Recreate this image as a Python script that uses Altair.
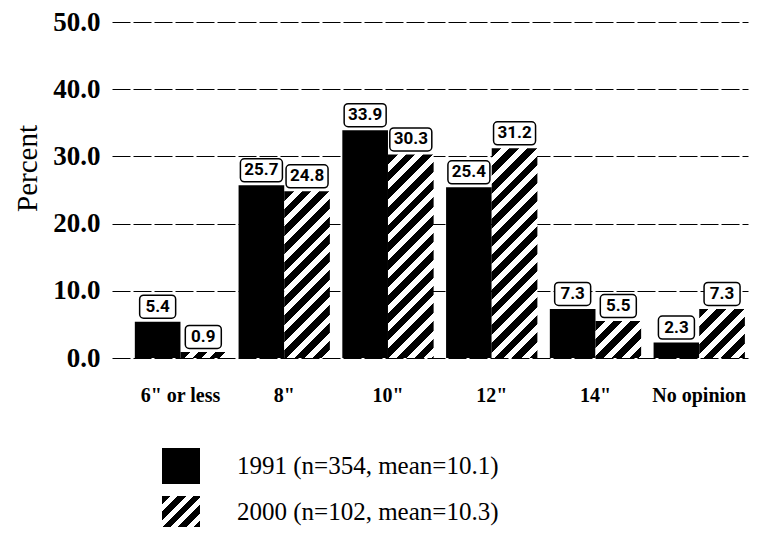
import math
import altair as alt
import pandas as pd

categories = ['6" or less', '8"', '10"', '12"', '14"', 'No opinion']
years = ['1991', '2000']
v1991 = [5.4, 25.7, 33.9, 25.4, 7.3, 2.3]
v2000 = [0.9, 24.8, 30.3, 31.2, 5.5, 7.3]
legend_labels = ['1991 (n=354, mean=10.1)', '2000 (n=102, mean=10.3)']
y_ticks = [0, 10, 20, 30, 40, 50]

W, H = 636, 336
YMAX = 50
PI, PO, ALIGN = 0.12, 0.125, 0.88

rows = []
for c, a, b in zip(categories, v1991, v2000):
    rows.append({"cat": c, "year": years[0], "value": a, "label": f"{a:.1f}"})
    rows.append({"cat": c, "year": years[1], "value": b, "label": f"{b:.1f}"})
df = pd.DataFrame(rows)
df["wide"] = df["label"].str.len() > 3

leg = pd.DataFrame({"year": years, "text": legend_labels})

step = W / (len(categories) - PI + 2 * PO)
bar_w = step * (1 - PI) / 2


def hatch(w, h, period=12.5, frac=0.55):
    D = (w + h) / math.sqrt(2)
    k = (w + h) / (w * w + h * h)
    n = int(D / period) + 2
    stops = []
    for i in range(n):
        a = i * period / D
        b = (i + frac) * period / D
        c = (i + 1) * period / D
        for off, col in [(a, "#000"), (b, "#000"), (b, "#fff"), (c, "#fff")]:
            stops.append(alt.GradientStop(offset=min(off, 1.0), color=col))
    return alt.Gradient(gradient="linear", stops=stops, x1=0, y1=0, x2=w * k, y2=h * k)


xenc = alt.X("cat:N", sort=categories,
             scale=alt.Scale(domain=categories, paddingInner=PI, paddingOuter=PO, align=ALIGN),
             axis=alt.Axis(title=None, labelAngle=0, ticks=False, domain=False,
                           labelFont="Liberation Serif", labelFontWeight="bold",
                           labelFontSize=20, labelColor="black", labelPadding=27))
xoff = alt.XOffset("year:N", sort=years, scale=alt.Scale(domain=years, paddingInner=0, paddingOuter=0))
yscale = alt.Scale(domain=[0, YMAX], nice=False)
yenc = alt.Y("value:Q", scale=yscale,
             axis=alt.Axis(title="Percent", values=y_ticks, format=".1f", ticks=False, domain=False,
                           grid=True, gridColor="black", gridDash=[18, 3], gridWidth=1,
                           labelFont="Liberation Serif", labelFontWeight="bold", labelFontSize=27,
                           labelColor="black", labelPadding=12,
                           titleFont="Liberation Serif", titleFontWeight="normal", titleFontSize=29,
                           titleColor="black", titlePadding=10, titleY=146))

base = alt.Chart(df)

black = base.mark_bar(fill="black").encode(x=xenc, xOffset=xoff, y=yenc).transform_filter(
    alt.datum.year == years[0])

layers = [black]
for c, v in zip(categories, v2000):
    h = v * H / YMAX
    layers.append(
        base.mark_bar(fill=hatch(bar_w, h)).encode(x=xenc, xOffset=xoff, y=yenc)
        .transform_filter((alt.datum.year == years[1]) & (alt.datum.cat == c))
    )

for wide, bw in [(False, 36), (True, 42)]:
    layers.append(
        base.mark_rect(width=bw, height=23, cornerRadius=4, fill="white", stroke="black",
                       strokeWidth=1.5, yOffset=-15)
        .encode(x=xenc, xOffset=xoff, y=yenc)
        .transform_filter(alt.datum.wide == wide)
    )

layers.append(
    base.mark_text(font="Roboto", fontWeight="bold", fontSize=17, color="black", dy=-15,
                   baseline="middle")
    .encode(x=xenc, xOffset=xoff, y=yenc, text="label:N")
)

main = alt.layer(*layers)

lbase = alt.Chart(leg)
ly = alt.Y("year:N", sort=years,
           scale=alt.Scale(type="point", domain=years, range=[444, 490], padding=0), axis=None)
sw_black = lbase.mark_rect(width=38, height=36, fill="black").encode(
    x=alt.value(69), y=ly).transform_filter(alt.datum.year == years[0])
sw_hatch = lbase.mark_rect(width=38, height=32, fill=hatch(38, 32, period=11)).encode(
    x=alt.value(69), y=ly).transform_filter(alt.datum.year == years[1])
ltext = lbase.mark_text(align="left", baseline="middle", font="Liberation Serif", fontSize=25,
                        color="black").encode(x=alt.value(125), y=ly, text="text:N")

chart = alt.layer(main, sw_black, sw_hatch, ltext).resolve_scale(y="independent").properties(
    width=W, height=H,
    autosize=alt.AutoSizeParams(type="none"),
    padding={"left": 104, "top": 14, "right": 1, "bottom": 169},
).configure_view(stroke=None)

chart.save("out.html", embed_options={"renderer": "svg", "actions": False})
